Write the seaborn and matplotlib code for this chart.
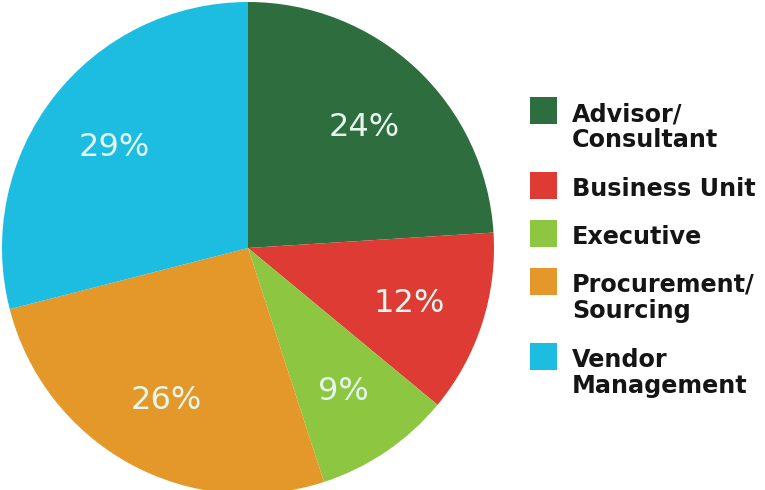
import matplotlib
matplotlib.use("Agg")
import matplotlib.pyplot as plt
from matplotlib.patches import Rectangle
import seaborn as sns

categories = ["Advisor/\nConsultant", "Business Unit", "Executive",
              "Procurement/\nSourcing", "Vendor\nManagement"]
shares = [24, 12, 9, 26, 29]
colors = ["#2e6d3d", "#de3b35", "#8dc640", "#e4982a", "#1dbde2"]

sns.set_theme(style="white")
plt.rcParams["font.family"] = ["DejaVu Sans"]

W, H = 765, 490
fig = plt.figure(figsize=(W / 100, H / 100), dpi=100)
fig.patch.set_facecolor("white")

# pie occupies the left part of the canvas
cx, cy, r = 248, 248, 246
ax = fig.add_axes([(cx - r) / W, (H - cy - r) / H, 2 * r / W, 2 * r / H])
wedges, texts, autotexts = ax.pie(
    shares, colors=colors, startangle=90, counterclock=False,
    autopct=lambda p: f"{p:.0f}%", pctdistance=0.69,
    wedgeprops=dict(edgecolor="none", linewidth=0),
    textprops=dict(color="#e6f6ee", fontsize=23, fontweight="normal"),
)
for t in autotexts:
    t.set_va("center_baseline")
ax.set_xlim(-1, 1)
ax.set_ylim(-1, 1)
ax.set_aspect("equal")
ax.axis("off")

# legend: square swatch aligned with the first text line
sq = 27
x_sq = 530
x_txt = 572
tops = [97, 172, 220, 268, 343]
line_h = 26
for top, label, col in zip(tops, categories, colors):
    fig.patches.append(Rectangle((x_sq / W, (H - top - sq) / H), sq / W, sq / H,
                                 transform=fig.transFigure, facecolor=col,
                                 edgecolor="none"))
    for i, line in enumerate(label.split("\n")):
        base = top + 24 + i * line_h
        fig.text(x_txt / W, (H - base) / H, line, ha="left", va="baseline",
                 fontsize=17.2, fontweight="bold", color="#151515")

fig.savefig("out.png", dpi=100, facecolor="white")
